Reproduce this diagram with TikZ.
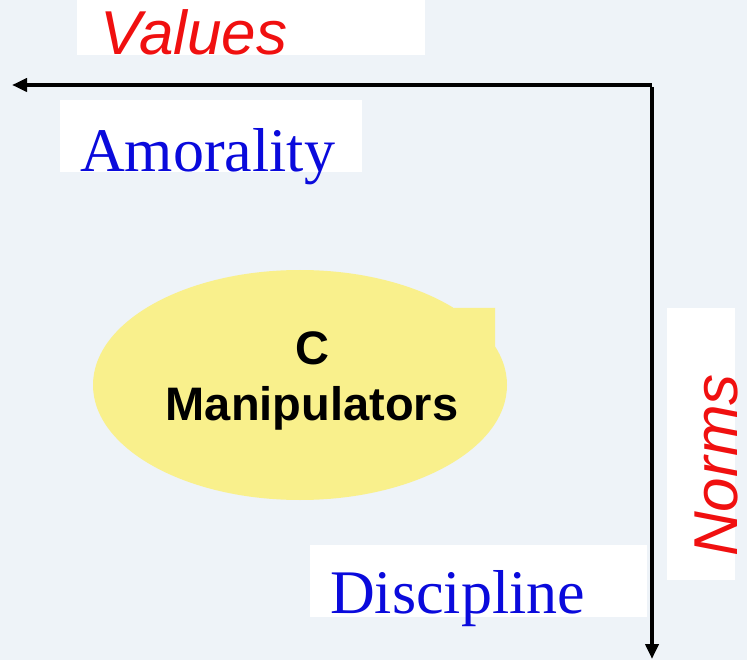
\documentclass[tikz,border=0pt]{standalone}
\usepackage{fontspec}
\setmainfont{Liberation Serif}
\setsansfont{Liberation Sans}
\usetikzlibrary{arrows.meta,shapes.geometric}
\definecolor{bgc}{HTML}{EEF3F8}
\definecolor{ellc}{HTML}{F9F08C}
\definecolor{redc}{HTML}{F01010}
\definecolor{bluec}{HTML}{0A0ADC}
\begin{document}
\begin{tikzpicture}[x=1pt,y=-1pt,
  whitebox/.style={fill=white,draw=none},
  axislabel/.style={inner sep=0pt,text=redc,font=\sffamily\itshape\fontsize{62}{62}\selectfont},
  quadlabel/.style={inner sep=0pt,text=bluec,font=\rmfamily\fontsize{62}{62}\selectfont},
  axis/.style={line width=3.8pt,-{Triangle[length=15pt,width=13pt]}}]
\useasboundingbox (0,0) rectangle (747,660);
\fill[bgc] (0,0) rectangle (747,660);
% white label backgrounds
\fill[whitebox] (77,0) rectangle (425,55);
\fill[whitebox] (60,100) rectangle (362,172);
\fill[whitebox] (310,545) rectangle (647,617);
\fill[whitebox] (667,308) rectangle (735,580);
% ellipse
\node[ellipse,fill=ellc,minimum width=414pt,minimum height=230pt,inner sep=0pt] (manip) at (300,385) {};
\fill[ellc] (454,308) -- (495,308) -- (495,346) -- (470,346) -- cycle;
\node[inner sep=0pt,anchor=base,font=\sffamily\bfseries\fontsize{47}{47}\selectfont] (c) at (312,364) {C};
\node[inner sep=0pt,anchor=base,font=\sffamily\bfseries\fontsize{47}{47}\selectfont] (m) at (312,420) {Manipulators};
% labels
\node[axislabel,anchor=base west] (values) at (100,55) {Values};
\node[quadlabel,anchor=base west] (amor) at (80,172) {Amorality};
\node[quadlabel,anchor=base west] (disc) at (330,613) {Discipline};
\node[axislabel,anchor=base west,rotate=90] (norms) at (737,557) {Norms};
% axes
\coordinate (corner) at (652,85);
\coordinate (left) at (12,85);
\coordinate (bottom) at (652,659);
\draw[axis] (corner) -- (left);
\draw[axis] ([yshift=-1.9pt]corner) -- (bottom);
\end{tikzpicture}
\end{document}
